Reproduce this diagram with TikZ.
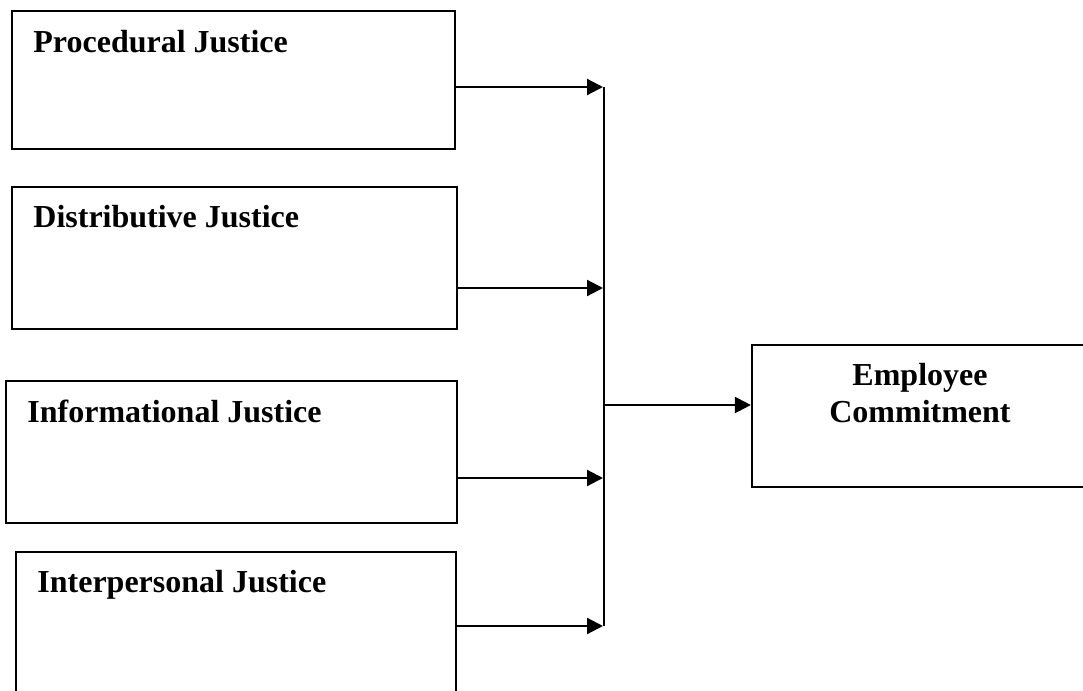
\documentclass[tikz,border=0pt]{standalone}
\usepackage{fontspec}
\setmainfont{Liberation Serif}
\usetikzlibrary{arrows.meta}
\begin{document}
\begin{tikzpicture}[x=0.5pt,y=-0.5pt,
  box/.style={draw,line width=1.1pt,rectangle,inner sep=0pt},
  lbl/.style={anchor=base west,inner sep=0pt,font=\fontsize{16}{18}\selectfont\bfseries},
  lblc/.style={anchor=base,inner sep=0pt,font=\fontsize{16}{18}\selectfont\bfseries},
  conn/.style={line width=1.1pt,-{Triangle[length=8pt,width=8pt]}},
  bus/.style={line width=1.1pt}]
\useasboundingbox (0,0) rectangle (1083,691);
% boxes
\node[box,minimum width=443*0.5pt,minimum height=138*0.5pt] (b1) at (233.5,80) {};
\node[box,minimum width=445*0.5pt,minimum height=142*0.5pt] (b2) at (234.5,258) {};
\node[box,minimum width=451*0.5pt,minimum height=142*0.5pt] (b3) at (231.5,452) {};
\node[box,minimum width=440*0.5pt,minimum height=160*0.5pt] (b4) at (236,632) {};
\node[box,minimum width=340*0.5pt,minimum height=142*0.5pt] (emp) at (922,416) {};
% labels
\node[lbl] (t1) at (33,52) {Procedural Justice};
\node[lbl] (t2) at (33,227) {Distributive Justice};
\node[lbl] (t3) at (27,422) {Informational Justice};
\node[lbl] (t4) at (37,592) {Interpersonal Justice};
\node[lblc] (t5a) at (920,385) {Employee};
\node[lblc] (t5b) at (920,422) {Commitment};
% bus
\coordinate (j1) at (604,87);
\coordinate (j2) at (604,288);
\coordinate (j3) at (604,478);
\coordinate (j4) at (604,626);
\coordinate (j5) at (604,405);
\draw[bus] (j1) -- (j4);
\draw[conn] (b1.east |- j1) -- ([xshift=-0.5pt]j1);
\draw[conn] (b2.east |- j2) -- ([xshift=-0.5pt]j2);
\draw[conn] (b3.east |- j3) -- ([xshift=-0.5pt]j3);
\draw[conn] (b4.east |- j4) -- ([xshift=-0.5pt]j4);
\draw[conn] (j5) -- (emp.west |- j5);
\end{tikzpicture}
\end{document}
